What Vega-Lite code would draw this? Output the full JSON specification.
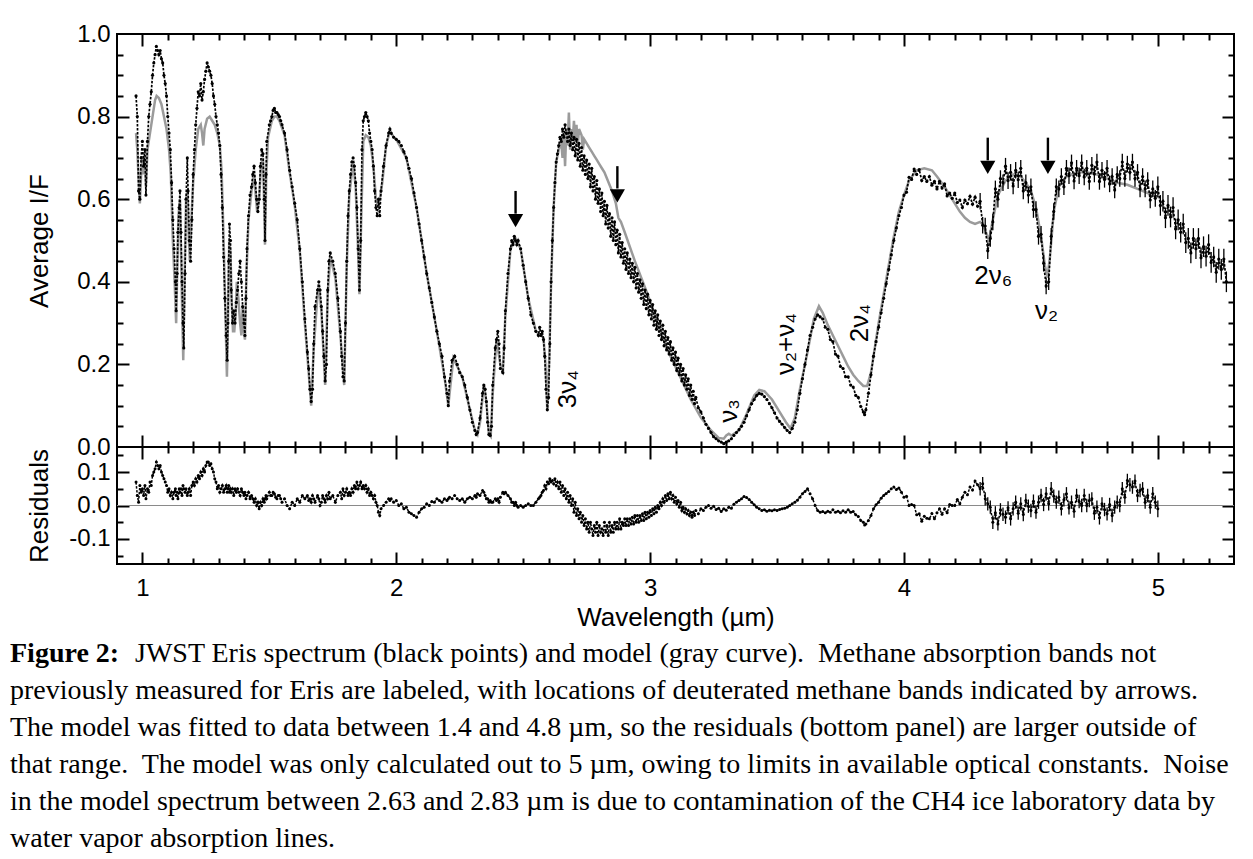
{
"$schema":"https://vega.github.io/schema/vega-lite/v6.json",
"background":"white",
"padding":{"left":10,"top":21,"right":10,"bottom":0},
"bounds":"flush",
"spacing":0,
"config":{
 "view":{"stroke":"black","strokeWidth":2},
 "font":"Liberation Sans",
 "axis":{"labelFont":"Liberation Sans","titleFont":"Liberation Sans","labelFontSize":24,"titleFontSize":26,"labelColor":"black","titleColor":"black","titleFontWeight":"normal","tickColor":"black","tickWidth":2,"domain":false,"grid":false,"labelOverlap":false,"labelBound":false,"labelFlush":false}
},
"datasets":{
"obs":[
{"w":0.975,"f":0.85,"r":0.07},{"w":0.98,"f":0.8,"r":0.03},{"w":0.985,"f":0.62,"r":0.01},{"w":0.99,"f":0.6,"r":0.06},{"w":0.995,"f":0.7,"r":0.04},{"w":1.0,"f":0.74,"r":0.05},{"w":1.005,"f":0.68,"r":0.03},{"w":1.01,"f":0.72,"r":0.06},{"w":1.014,"f":0.61,"r":0.02},{"w":1.02,"f":0.74,"r":0.05},{"w":1.025,"f":0.8,"r":0.04},{"w":1.03,"f":0.83,"r":0.07},{"w":1.035,"f":0.86,"r":0.06},{"w":1.04,"f":0.9,"r":0.09},{"w":1.045,"f":0.93,"r":0.1},{"w":1.05,"f":0.95,"r":0.11},{"w":1.055,"f":0.97,"r":0.13},{"w":1.06,"f":0.96,"r":0.12},{"w":1.065,"f":0.95,"r":0.11},{"w":1.07,"f":0.96,"r":0.12},{"w":1.075,"f":0.94,"r":0.1},{"w":1.08,"f":0.93,"r":0.09},{"w":1.085,"f":0.9,"r":0.08},{"w":1.09,"f":0.88,"r":0.07},{"w":1.095,"f":0.85,"r":0.06},{"w":1.1,"f":0.8,"r":0.04},{"w":1.105,"f":0.76,"r":0.05},{"w":1.11,"f":0.72,"r":0.03},{"w":1.115,"f":0.64,"r":0.04},{"w":1.12,"f":0.55,"r":0.02},{"w":1.125,"f":0.48,"r":0.04},{"w":1.13,"f":0.4,"r":0.05},{"w":1.133,"f":0.33,"r":0.03},{"w":1.137,"f":0.42,"r":0.04},{"w":1.14,"f":0.52,"r":0.02},{"w":1.145,"f":0.58,"r":0.05},{"w":1.148,"f":0.62,"r":0.04},{"w":1.152,"f":0.52,"r":0.05},{"w":1.156,"f":0.4,"r":0.03},{"w":1.16,"f":0.3,"r":0.06},{"w":1.163,"f":0.24,"r":0.05},{"w":1.168,"f":0.42,"r":0.04},{"w":1.172,"f":0.6,"r":0.05},{"w":1.177,"f":0.7,"r":0.03},{"w":1.18,"f":0.62,"r":0.04},{"w":1.185,"f":0.5,"r":0.05},{"w":1.19,"f":0.45,"r":0.03},{"w":1.195,"f":0.55,"r":0.06},{"w":1.2,"f":0.66,"r":0.07},{"w":1.205,"f":0.72,"r":0.06},{"w":1.21,"f":0.78,"r":0.08},{"w":1.215,"f":0.82,"r":0.07},{"w":1.22,"f":0.86,"r":0.09},{"w":1.225,"f":0.85,"r":0.08},{"w":1.23,"f":0.88,"r":0.1},{"w":1.235,"f":0.84,"r":0.09},{"w":1.24,"f":0.86,"r":0.11},{"w":1.245,"f":0.89,"r":0.1},{"w":1.25,"f":0.91,"r":0.12},{"w":1.255,"f":0.93,"r":0.13},{"w":1.26,"f":0.92,"r":0.13},{"w":1.265,"f":0.91,"r":0.12},{"w":1.27,"f":0.9,"r":0.125},{"w":1.275,"f":0.88,"r":0.11},{"w":1.28,"f":0.85,"r":0.1},{"w":1.285,"f":0.83,"r":0.08},{"w":1.29,"f":0.8,"r":0.07},{"w":1.295,"f":0.78,"r":0.05},{"w":1.3,"f":0.76,"r":0.06},{"w":1.305,"f":0.73,"r":0.04},{"w":1.31,"f":0.66,"r":0.05},{"w":1.315,"f":0.58,"r":0.06},{"w":1.32,"f":0.46,"r":0.04},{"w":1.325,"f":0.36,"r":0.05},{"w":1.33,"f":0.27,"r":0.06},{"w":1.334,"f":0.21,"r":0.04},{"w":1.337,"f":0.3,"r":0.05},{"w":1.34,"f":0.45,"r":0.06},{"w":1.343,"f":0.54,"r":0.04},{"w":1.347,"f":0.5,"r":0.05},{"w":1.35,"f":0.38,"r":0.04},{"w":1.355,"f":0.3,"r":0.05},{"w":1.36,"f":0.33,"r":0.03},{"w":1.365,"f":0.3,"r":0.05},{"w":1.37,"f":0.35,"r":0.04},{"w":1.375,"f":0.38,"r":0.05},{"w":1.38,"f":0.42,"r":0.04},{"w":1.385,"f":0.45,"r":0.03},{"w":1.39,"f":0.4,"r":0.05},{"w":1.395,"f":0.34,"r":0.04},{"w":1.4,"f":0.3,"r":0.03},{"w":1.404,"f":0.27,"r":0.04},{"w":1.408,"f":0.36,"r":0.02},{"w":1.412,"f":0.48,"r":0.03},{"w":1.418,"f":0.56,"r":0.04},{"w":1.424,"f":0.61,"r":0.02},{"w":1.43,"f":0.63,"r":0.03},{"w":1.435,"f":0.66,"r":0.02},{"w":1.44,"f":0.68,"r":0.01},{"w":1.445,"f":0.64,"r":0.02},{"w":1.45,"f":0.6,"r":0.0},{"w":1.455,"f":0.57,"r":0.01},{"w":1.46,"f":0.6,"r":-0.01},{"w":1.465,"f":0.68,"r":0.01},{"w":1.47,"f":0.72,"r":0.0},{"w":1.475,"f":0.71,"r":0.02},{"w":1.48,"f":0.6,"r":0.01},{"w":1.483,"f":0.5,"r":0.02},{"w":1.487,"f":0.66,"r":0.03},{"w":1.49,"f":0.74,"r":0.02},{"w":1.5,"f":0.78,"r":0.04},{"w":1.505,"f":0.79,"r":0.03},{"w":1.51,"f":0.8,"r":0.03},{"w":1.515,"f":0.815,"r":0.04},{"w":1.52,"f":0.82,"r":0.035},{"w":1.525,"f":0.81,"r":0.025},{"w":1.53,"f":0.81,"r":0.02},{"w":1.535,"f":0.805,"r":0.03},{"w":1.54,"f":0.8,"r":0.03},{"w":1.545,"f":0.79,"r":0.02},{"w":1.55,"f":0.78,"r":0.01},{"w":1.56,"f":0.76,"r":0.02},{"w":1.57,"f":0.72,"r":0.0},{"w":1.58,"f":0.67,"r":-0.01},{"w":1.59,"f":0.63,"r":0.01},{"w":1.6,"f":0.59,"r":0.0},{"w":1.61,"f":0.55,"r":0.02},{"w":1.62,"f":0.48,"r":0.01},{"w":1.63,"f":0.4,"r":0.03},{"w":1.64,"f":0.31,"r":0.02},{"w":1.65,"f":0.23,"r":0.03},{"w":1.655,"f":0.19,"r":0.015},{"w":1.66,"f":0.14,"r":0.02},{"w":1.665,"f":0.11,"r":0.01},{"w":1.67,"f":0.14,"r":0.03},{"w":1.675,"f":0.25,"r":0.02},{"w":1.68,"f":0.34,"r":0.01},{"w":1.69,"f":0.38,"r":0.03},{"w":1.695,"f":0.4,"r":0.02},{"w":1.7,"f":0.38,"r":0.0},{"w":1.705,"f":0.34,"r":0.01},{"w":1.71,"f":0.28,"r":0.03},{"w":1.715,"f":0.22,"r":0.02},{"w":1.72,"f":0.16,"r":0.01},{"w":1.725,"f":0.2,"r":0.03},{"w":1.73,"f":0.38,"r":0.02},{"w":1.735,"f":0.45,"r":0.04},{"w":1.74,"f":0.47,"r":0.02},{"w":1.75,"f":0.45,"r":0.03},{"w":1.76,"f":0.42,"r":0.01},{"w":1.77,"f":0.36,"r":0.03},{"w":1.78,"f":0.28,"r":0.04},{"w":1.785,"f":0.22,"r":0.02},{"w":1.79,"f":0.17,"r":0.05},{"w":1.795,"f":0.16,"r":0.03},{"w":1.8,"f":0.3,"r":0.04},{"w":1.805,"f":0.45,"r":0.05},{"w":1.81,"f":0.56,"r":0.03},{"w":1.815,"f":0.62,"r":0.04},{"w":1.82,"f":0.66,"r":0.03},{"w":1.825,"f":0.69,"r":0.05},{"w":1.83,"f":0.7,"r":0.04},{"w":1.835,"f":0.68,"r":0.06},{"w":1.84,"f":0.64,"r":0.05},{"w":1.845,"f":0.58,"r":0.07},{"w":1.85,"f":0.48,"r":0.05},{"w":1.855,"f":0.38,"r":0.06},{"w":1.86,"f":0.5,"r":0.07},{"w":1.865,"f":0.72,"r":0.05},{"w":1.87,"f":0.79,"r":0.06},{"w":1.875,"f":0.8,"r":0.05},{"w":1.88,"f":0.81,"r":0.06},{"w":1.885,"f":0.8,"r":0.04},{"w":1.89,"f":0.79,"r":0.05},{"w":1.895,"f":0.76,"r":0.03},{"w":1.9,"f":0.74,"r":0.04},{"w":1.905,"f":0.72,"r":0.03},{"w":1.91,"f":0.68,"r":0.02},{"w":1.915,"f":0.62,"r":0.03},{"w":1.92,"f":0.58,"r":0.01},{"w":1.925,"f":0.56,"r":0.0},{"w":1.93,"f":0.6,"r":-0.02},{"w":1.935,"f":0.56,"r":-0.03},{"w":1.94,"f":0.62,"r":-0.01},{"w":1.95,"f":0.68,"r":0.0},{"w":1.96,"f":0.73,"r":0.01},{"w":1.97,"f":0.76,"r":0.02},{"w":1.975,"f":0.77,"r":0.015},{"w":1.98,"f":0.76,"r":0.02},{"w":1.99,"f":0.75,"r":0.01},{"w":2.0,"f":0.745,"r":0.015},{"w":2.01,"f":0.74,"r":0.0},{"w":2.02,"f":0.73,"r":0.005},{"w":2.03,"f":0.715,"r":-0.01},{"w":2.04,"f":0.7,"r":-0.005},{"w":2.05,"f":0.675,"r":-0.02},{"w":2.06,"f":0.65,"r":-0.025},{"w":2.07,"f":0.615,"r":-0.03},{"w":2.08,"f":0.58,"r":-0.035},{"w":2.09,"f":0.54,"r":-0.02},{"w":2.1,"f":0.5,"r":-0.01},{"w":2.11,"f":0.46,"r":-0.005},{"w":2.12,"f":0.42,"r":0.005},{"w":2.13,"f":0.385,"r":0.0},{"w":2.14,"f":0.35,"r":0.012},{"w":2.15,"f":0.315,"r":0.01},{"w":2.16,"f":0.28,"r":0.02},{"w":2.17,"f":0.25,"r":0.015},{"w":2.18,"f":0.22,"r":0.01},{"w":2.19,"f":0.17,"r":0.02},{"w":2.2,"f":0.13,"r":0.015},{"w":2.205,"f":0.1,"r":0.02},{"w":2.21,"f":0.16,"r":0.025},{"w":2.22,"f":0.21,"r":0.02},{"w":2.23,"f":0.22,"r":0.03},{"w":2.24,"f":0.2,"r":0.02},{"w":2.25,"f":0.18,"r":0.015},{"w":2.26,"f":0.17,"r":0.02},{"w":2.27,"f":0.15,"r":0.01},{"w":2.28,"f":0.12,"r":0.02},{"w":2.29,"f":0.09,"r":0.025},{"w":2.3,"f":0.06,"r":0.02},{"w":2.31,"f":0.04,"r":0.03},{"w":2.315,"f":0.03,"r":0.025},{"w":2.32,"f":0.035,"r":0.035},{"w":2.33,"f":0.07,"r":0.03},{"w":2.34,"f":0.13,"r":0.045},{"w":2.345,"f":0.15,"r":0.04},{"w":2.35,"f":0.14,"r":0.03},{"w":2.355,"f":0.11,"r":0.02},{"w":2.36,"f":0.06,"r":0.02},{"w":2.365,"f":0.03,"r":0.01},{"w":2.37,"f":0.028,"r":0.015},{"w":2.375,"f":0.05,"r":0.01},{"w":2.38,"f":0.15,"r":0.01},{"w":2.39,"f":0.24,"r":0.02},{"w":2.395,"f":0.26,"r":0.015},{"w":2.4,"f":0.28,"r":0.02},{"w":2.405,"f":0.25,"r":0.01},{"w":2.41,"f":0.19,"r":0.025},{"w":2.42,"f":0.18,"r":0.04},{"w":2.425,"f":0.24,"r":0.035},{"w":2.43,"f":0.33,"r":0.04},{"w":2.44,"f":0.42,"r":0.03},{"w":2.45,"f":0.48,"r":0.02},{"w":2.455,"f":0.5,"r":0.01},{"w":2.46,"f":0.49,"r":0.01},{"w":2.465,"f":0.51,"r":0.0},{"w":2.47,"f":0.5,"r":0.01},{"w":2.475,"f":0.49,"r":0.0},{"w":2.48,"f":0.5,"r":-0.005},{"w":2.49,"f":0.48,"r":0.0},{"w":2.5,"f":0.44,"r":-0.005},{"w":2.51,"f":0.4,"r":0.0},{"w":2.52,"f":0.36,"r":0.005},{"w":2.53,"f":0.32,"r":0.0},{"w":2.54,"f":0.3,"r":0.0},{"w":2.55,"f":0.28,"r":0.01},{"w":2.56,"f":0.27,"r":0.02},{"w":2.565,"f":0.29,"r":0.025},{"w":2.57,"f":0.27,"r":0.03},{"w":2.575,"f":0.28,"r":0.04},{"w":2.58,"f":0.26,"r":0.045},{"w":2.585,"f":0.22,"r":0.06},{"w":2.59,"f":0.14,"r":0.05},{"w":2.595,"f":0.09,"r":0.07},{"w":2.6,"f":0.12,"r":0.065},{"w":2.605,"f":0.25,"r":0.08},{"w":2.61,"f":0.4,"r":0.07},{"w":2.615,"f":0.5,"r":0.075},{"w":2.62,"f":0.58,"r":0.065},{"w":2.625,"f":0.64,"r":0.08},{"w":2.63,"f":0.69,"r":0.06},{"w":2.635,"f":0.71,"r":0.07},
{"w":2.64,"f":0.73,"r":0.05},{"w":2.645,"f":0.75,"r":0.07},{"w":2.65,"f":0.74,"r":0.04},{"w":2.655,"f":0.77,"r":0.06},{"w":2.66,"f":0.75,"r":0.03},{"w":2.665,"f":0.78,"r":0.05},{"w":2.67,"f":0.76,"r":0.02},{"w":2.675,"f":0.74,"r":0.04},{"w":2.68,"f":0.77,"r":0.01},{"w":2.685,"f":0.73,"r":0.03},{"w":2.69,"f":0.76,"r":0.0},{"w":2.695,"f":0.72,"r":0.02},{"w":2.7,"f":0.75,"r":-0.02},{"w":2.705,"f":0.705,"r":0.01},{"w":2.71,"f":0.745,"r":-0.03},{"w":2.715,"f":0.695,"r":-0.01},{"w":2.72,"f":0.735,"r":-0.04},{"w":2.725,"f":0.68,"r":-0.02},{"w":2.73,"f":0.725,"r":-0.05},{"w":2.735,"f":0.67,"r":-0.03},{"w":2.74,"f":0.705,"r":-0.06},{"w":2.745,"f":0.66,"r":-0.04},{"w":2.75,"f":0.695,"r":-0.07},{"w":2.755,"f":0.65,"r":-0.05},{"w":2.76,"f":0.685,"r":-0.08},{"w":2.765,"f":0.63,"r":-0.05},{"w":2.77,"f":0.675,"r":-0.07},{"w":2.775,"f":0.62,"r":-0.09},{"w":2.78,"f":0.655,"r":-0.06},{"w":2.785,"f":0.6,"r":-0.08},{"w":2.79,"f":0.645,"r":-0.05},{"w":2.795,"f":0.59,"r":-0.09},{"w":2.8,"f":0.625,"r":-0.06},{"w":2.805,"f":0.57,"r":-0.08},{"w":2.81,"f":0.615,"r":-0.07},{"w":2.815,"f":0.56,"r":-0.09},{"w":2.82,"f":0.595,"r":-0.05},{"w":2.825,"f":0.54,"r":-0.08},{"w":2.83,"f":0.585,"r":-0.06},{"w":2.835,"f":0.53,"r":-0.09},{"w":2.84,"f":0.565,"r":-0.05},{"w":2.845,"f":0.51,"r":-0.08},{"w":2.85,"f":0.555,"r":-0.06},{"w":2.855,"f":0.5,"r":-0.08},{"w":2.86,"f":0.545,"r":-0.05},{"w":2.865,"f":0.49,"r":-0.07},{"w":2.87,"f":0.525,"r":-0.05},{"w":2.875,"f":0.47,"r":-0.07},{"w":2.88,"f":0.515,"r":-0.04},{"w":2.885,"f":0.46,"r":-0.07},{"w":2.89,"f":0.495,"r":-0.05},{"w":2.895,"f":0.445,"r":-0.06},{"w":2.9,"f":0.48,"r":-0.04},{"w":2.905,"f":0.43,"r":-0.06},{"w":2.91,"f":0.47,"r":-0.04},{"w":2.915,"f":0.42,"r":-0.06},{"w":2.92,"f":0.455,"r":-0.04},{"w":2.925,"f":0.41,"r":-0.055},{"w":2.93,"f":0.445,"r":-0.035},{"w":2.935,"f":0.4,"r":-0.055},{"w":2.94,"f":0.435,"r":-0.03},{"w":2.945,"f":0.385,"r":-0.05},{"w":2.95,"f":0.42,"r":-0.03},{"w":2.955,"f":0.375,"r":-0.05},{"w":2.96,"f":0.405,"r":-0.03},{"w":2.965,"f":0.36,"r":-0.045},{"w":2.97,"f":0.395,"r":-0.025},{"w":2.975,"f":0.345,"r":-0.045},{"w":2.98,"f":0.38,"r":-0.02},{"w":2.985,"f":0.335,"r":-0.04},{"w":2.99,"f":0.37,"r":-0.02},{"w":2.995,"f":0.32,"r":-0.035},{"w":3.0,"f":0.355,"r":-0.015},{"w":3.005,"f":0.31,"r":-0.03},{"w":3.01,"f":0.345,"r":-0.01},{"w":3.015,"f":0.295,"r":-0.025},{"w":3.02,"f":0.33,"r":-0.005},{"w":3.025,"f":0.285,"r":-0.02},{"w":3.03,"f":0.32,"r":0.0},{"w":3.035,"f":0.27,"r":-0.01},{"w":3.04,"f":0.305,"r":0.01},{"w":3.045,"f":0.26,"r":0.0},{"w":3.05,"f":0.295,"r":0.02},{"w":3.055,"f":0.245,"r":0.01},{"w":3.06,"f":0.28,"r":0.03},{"w":3.065,"f":0.235,"r":0.015},{"w":3.07,"f":0.265,"r":0.035},{"w":3.075,"f":0.225,"r":0.02},{"w":3.08,"f":0.255,"r":0.04},{"w":3.085,"f":0.21,"r":0.02},{"w":3.09,"f":0.24,"r":0.03},{"w":3.095,"f":0.2,"r":0.01},{"w":3.1,"f":0.23,"r":0.025},{"w":3.105,"f":0.185,"r":0.005},{"w":3.11,"f":0.215,"r":0.015},{"w":3.115,"f":0.175,"r":-0.005},{"w":3.12,"f":0.2,"r":0.01},{"w":3.125,"f":0.16,"r":-0.015},{"w":3.13,"f":0.19,"r":-0.005},{"w":3.135,"f":0.15,"r":-0.02},{"w":3.14,"f":0.175,"r":-0.01},{"w":3.145,"f":0.14,"r":-0.025},{"w":3.15,"f":0.165,"r":-0.015},{"w":3.155,"f":0.125,"r":-0.03},{"w":3.16,"f":0.15,"r":-0.02},{"w":3.165,"f":0.115,"r":-0.035},{"w":3.17,"f":0.135,"r":-0.02},{"w":3.175,"f":0.105,"r":-0.03},{"w":3.18,"f":0.12,"r":-0.015},{"w":3.19,"f":0.095,"r":-0.025},{"w":3.2,"f":0.085,"r":-0.01},{"w":3.21,"f":0.07,"r":-0.015},
{"w":3.22,"f":0.055,"r":-0.005},{"w":3.23,"f":0.045,"r":0.0},{"w":3.24,"f":0.035,"r":-0.008},{"w":3.25,"f":0.025,"r":-0.002},{"w":3.26,"f":0.02,"r":-0.012},{"w":3.27,"f":0.015,"r":-0.008},{"w":3.28,"f":0.012,"r":-0.018},{"w":3.29,"f":0.008,"r":-0.01},{"w":3.3,"f":0.012,"r":-0.014},{"w":3.31,"f":0.015,"r":-0.005},{"w":3.32,"f":0.02,"r":-0.008},{"w":3.33,"f":0.028,"r":0.004},{"w":3.34,"f":0.035,"r":0.01},{"w":3.35,"f":0.042,"r":0.015},{"w":3.36,"f":0.05,"r":0.02},{"w":3.37,"f":0.06,"r":0.027},{"w":3.38,"f":0.075,"r":0.024},{"w":3.39,"f":0.09,"r":0.018},{"w":3.4,"f":0.105,"r":0.01},{"w":3.41,"f":0.115,"r":0.002},{"w":3.42,"f":0.125,"r":-0.005},{"w":3.43,"f":0.13,"r":-0.01},{"w":3.44,"f":0.128,"r":-0.015},{"w":3.45,"f":0.122,"r":-0.013},{"w":3.46,"f":0.115,"r":-0.017},{"w":3.47,"f":0.105,"r":-0.014},{"w":3.48,"f":0.095,"r":-0.016},{"w":3.49,"f":0.083,"r":-0.013},{"w":3.5,"f":0.07,"r":-0.015},{"w":3.51,"f":0.062,"r":-0.012},{"w":3.52,"f":0.055,"r":-0.01},{"w":3.53,"f":0.047,"r":-0.008},{"w":3.54,"f":0.04,"r":-0.005},{"w":3.55,"f":0.035,"r":0.0},{"w":3.56,"f":0.045,"r":0.005},{"w":3.57,"f":0.06,"r":0.01},{"w":3.58,"f":0.09,"r":0.016},{"w":3.59,"f":0.13,"r":0.025},{"w":3.6,"f":0.165,"r":0.035},{"w":3.61,"f":0.2,"r":0.042},{"w":3.62,"f":0.235,"r":0.05},{"w":3.63,"f":0.27,"r":0.035},{"w":3.64,"f":0.29,"r":0.02},{"w":3.65,"f":0.31,"r":0.0},{"w":3.66,"f":0.32,"r":-0.015},{"w":3.67,"f":0.315,"r":-0.02},{"w":3.68,"f":0.31,"r":-0.018},{"w":3.69,"f":0.29,"r":-0.022},{"w":3.7,"f":0.285,"r":-0.017},{"w":3.71,"f":0.26,"r":-0.02},{"w":3.72,"f":0.255,"r":-0.013},{"w":3.73,"f":0.225,"r":-0.02},{"w":3.74,"f":0.22,"r":-0.017},{"w":3.75,"f":0.195,"r":-0.022},{"w":3.76,"f":0.19,"r":-0.016},{"w":3.77,"f":0.17,"r":-0.02},{"w":3.78,"f":0.17,"r":-0.013},{"w":3.79,"f":0.15,"r":-0.02},{"w":3.8,"f":0.145,"r":-0.018},{"w":3.81,"f":0.125,"r":-0.028},{"w":3.82,"f":0.12,"r":-0.033},{"w":3.83,"f":0.098,"r":-0.045},{"w":3.84,"f":0.085,"r":-0.05},{"w":3.845,"f":0.078,"r":-0.058},{"w":3.85,"f":0.09,"r":-0.055},{"w":3.86,"f":0.13,"r":-0.045},{"w":3.87,"f":0.175,"r":-0.03},{"w":3.88,"f":0.22,"r":-0.01},{"w":3.89,"f":0.255,"r":0.002},{"w":3.9,"f":0.29,"r":0.01},{"w":3.91,"f":0.325,"r":0.022},{"w":3.92,"f":0.36,"r":0.03},{"w":3.93,"f":0.395,"r":0.036},{"w":3.94,"f":0.43,"r":0.042},{"w":3.95,"f":0.465,"r":0.05},{"w":3.96,"f":0.5,"r":0.055},{"w":3.97,"f":0.53,"r":0.048},{"w":3.98,"f":0.56,"r":0.052},{"w":3.99,"f":0.58,"r":0.04},
{"w":4.0,"f":0.61,"r":0.025},{"w":4.01,"f":0.617,"r":0.028},{"w":4.02,"f":0.653,"r":0.0},{"w":4.03,"f":0.648,"r":0.003},{"w":4.04,"f":0.673,"r":0.0},{"w":4.05,"f":0.66,"r":-0.028},{"w":4.06,"f":0.672,"r":-0.025},{"w":4.07,"f":0.645,"r":-0.047},{"w":4.08,"f":0.655,"r":-0.032},{"w":4.09,"f":0.643,"r":-0.038},{"w":4.1,"f":0.655,"r":-0.04},{"w":4.11,"f":0.634,"r":-0.024},{"w":4.12,"f":0.643,"r":-0.04},{"w":4.13,"f":0.625,"r":-0.022},{"w":4.14,"f":0.643,"r":-0.01},{"w":4.15,"f":0.627,"r":-0.026},{"w":4.16,"f":0.637,"r":-0.01},{"w":4.17,"f":0.608,"r":-0.022},{"w":4.18,"f":0.615,"r":0.003},{"w":4.19,"f":0.602,"r":0.0},{"w":4.2,"f":0.615,"r":0.0},{"w":4.21,"f":0.592,"r":0.018},{"w":4.22,"f":0.598,"r":0.005},{"w":4.23,"f":0.58,"r":0.025},{"w":4.24,"f":0.598,"r":0.04},{"w":4.25,"f":0.589,"r":0.032},{"w":4.26,"f":0.607,"r":0.055},{"w":4.27,"f":0.588,"r":0.046},{"w":4.28,"f":0.605,"r":0.073},{"w":4.29,"f":0.583,"r":0.062},
{"w":4.3,"f":0.595,"r":0.05,"e":0.02},{"w":4.31,"f":0.537,"r":0.065,"e":0.02},{"w":4.32,"f":0.535,"r":0.02,"e":0.02},{"w":4.33,"f":0.475,"r":0.005,"e":0.02},{"w":4.34,"f":0.505,"r":-0.005,"e":0.02},{"w":4.35,"f":0.545,"r":-0.05,"e":0.02},{"w":4.36,"f":0.625,"r":-0.022,"e":0.02},{"w":4.37,"f":0.6,"r":-0.055,"e":0.02},{"w":4.38,"f":0.65,"r":-0.013,"e":0.02},{"w":4.39,"f":0.64,"r":-0.026,"e":0.02},{"w":4.4,"f":0.68,"r":-0.035,"e":0.02},{"w":4.41,"f":0.645,"r":-0.007,"e":0.02},{"w":4.42,"f":0.665,"r":-0.04,"e":0.02},{"w":4.43,"f":0.632,"r":-0.01,"e":0.02},{"w":4.44,"f":0.67,"r":0.01,"e":0.02},{"w":4.45,"f":0.647,"r":-0.023,"e":0.02},{"w":4.46,"f":0.675,"r":0.005,"e":0.02},{"w":4.47,"f":0.62,"r":-0.027,"e":0.02},{"w":4.48,"f":0.64,"r":0.015,"e":0.02},{"w":4.49,"f":0.61,"r":-0.002,"e":0.02},{"w":4.5,"f":0.63,"r":-0.015,"e":0.02},{"w":4.51,"f":0.575,"r":0.013,"e":0.02},{"w":4.52,"f":0.575,"r":-0.02,"e":0.02},{"w":4.53,"f":0.51,"r":0.01,"e":0.02},{"w":4.54,"f":0.515,"r":0.03,"e":0.02},{"w":4.55,"f":0.445,"r":0.003,"e":0.02},{"w":4.56,"f":0.39,"r":0.035,"e":0.02},{"w":4.57,"f":0.4,"r":0.005,"e":0.02},{"w":4.58,"f":0.51,"r":0.05,"e":0.02},{"w":4.59,"f":0.57,"r":0.028,"e":0.02},{"w":4.6,"f":0.63,"r":0.01,"e":0.02},{"w":4.61,"f":0.625,"r":0.025,"e":0.02},{"w":4.62,"f":0.655,"r":-0.01,"e":0.02},{"w":4.63,"f":0.63,"r":0.017,"e":0.02},{"w":4.64,"f":0.675,"r":0.035,"e":0.02},{"w":4.65,"f":0.657,"r":-0.007,"e":0.02},{"w":4.66,"f":0.688,"r":0.01,"e":0.02},{"w":4.67,"f":0.644,"r":-0.017,"e":0.02},{"w":4.68,"f":0.675,"r":0.03,"e":0.02},{"w":4.69,"f":0.657,"r":0.012,"e":0.02},{"w":4.7,"f":0.688,"r":0.0,"e":0.02},{"w":4.71,"f":0.654,"r":0.03,"e":0.02},{"w":4.72,"f":0.675,"r":0.0,"e":0.02},{"w":4.73,"f":0.643,"r":0.015,"e":0.02},{"w":4.74,"f":0.682,"r":0.02,"e":0.02},{"w":4.75,"f":0.661,"r":-0.023,"e":0.02},{"w":4.76,"f":0.69,"r":-0.005,"e":0.02},{"w":4.77,"f":0.643,"r":-0.037,"e":0.02},{"w":4.78,"f":0.67,"r":0.005,"e":0.02},{"w":4.79,"f":0.648,"r":-0.012,"e":0.02},{"w":4.8,"f":0.675,"r":-0.025,"e":0.02},{"w":4.81,"f":0.637,"r":0.003,"e":0.02},{"w":4.82,"f":0.655,"r":-0.03,"e":0.02},{"w":4.83,"f":0.622,"r":-0.005,"e":0.02},{"w":4.84,"f":0.66,"r":0.01,"e":0.02},{"w":4.85,"f":0.65,"r":0.0,"e":0.02},{"w":4.86,"f":0.69,"r":0.05,"e":0.02},{"w":4.87,"f":0.65,"r":0.025,"e":0.02},{"w":4.88,"f":0.685,"r":0.075,"e":0.02},{"w":4.89,"f":0.665,"r":0.062,"e":0.02},{"w":4.9,"f":0.69,"r":0.055,"e":0.02},{"w":4.91,"f":0.65,"r":0.073,"e":0.02},{"w":4.92,"f":0.665,"r":0.03,"e":0.02},{"w":4.93,"f":0.625,"r":0.045,"e":0.02},{"w":4.94,"f":0.655,"r":0.05,"e":0.02},{"w":4.95,"f":0.625,"r":0.01,"e":0.02},{"w":4.96,"f":0.645,"r":0.03,"e":0.02},{"w":4.97,"f":0.598,"r":-0.005,"e":0.02},{"w":4.98,"f":0.625,"r":0.035,"e":0.02},{"w":4.99,"f":0.602,"r":0.01,"e":0.02},{"w":5.0,"f":0.63,"r":-0.01,"e":0.025},
{"w":5.01,"f":0.585,"e":0.025},{"w":5.02,"f":0.595,"e":0.025},{"w":5.03,"f":0.555,"e":0.025},{"w":5.04,"f":0.585,"e":0.025},{"w":5.05,"f":0.557,"e":0.025},{"w":5.06,"f":0.58,"e":0.025},{"w":5.07,"f":0.528,"e":0.025},{"w":5.08,"f":0.55,"e":0.025},{"w":5.09,"f":0.52,"e":0.025},{"w":5.1,"f":0.54,"e":0.025},{"w":5.11,"f":0.495,"e":0.025},{"w":5.12,"f":0.505,"e":0.025},{"w":5.13,"f":0.47,"e":0.025},{"w":5.14,"f":0.505,"e":0.025},{"w":5.15,"f":0.48,"e":0.025},{"w":5.16,"f":0.505,"e":0.025},{"w":5.17,"f":0.458,"e":0.025},{"w":5.18,"f":0.485,"e":0.025},{"w":5.19,"f":0.462,"e":0.025},{"w":5.2,"f":0.49,"e":0.025},{"w":5.21,"f":0.447,"e":0.025},{"w":5.22,"f":0.46,"e":0.025},{"w":5.23,"f":0.423,"e":0.025},{"w":5.24,"f":0.455,"e":0.025},{"w":5.25,"f":0.43,"e":0.025},{"w":5.26,"f":0.455,"e":0.025},{"w":5.27,"f":0.4,"e":0.025}
],
"model":[
{"w":0.975,"m":0.76},{"w":0.98,"m":0.72},{"w":0.985,"m":0.65},{"w":0.99,"m":0.59},{"w":0.995,"m":0.66},{"w":1.0,"m":0.7},{"w":1.005,"m":0.66},{"w":1.01,"m":0.7},{"w":1.014,"m":0.63},{"w":1.02,"m":0.72},{"w":1.03,"m":0.76},{"w":1.04,"m":0.8},{"w":1.05,"m":0.84},{"w":1.056,"m":0.85},{"w":1.065,"m":0.845},{"w":1.075,"m":0.83},{"w":1.085,"m":0.8},{"w":1.095,"m":0.77},{"w":1.105,"m":0.72},{"w":1.112,"m":0.66},{"w":1.12,"m":0.5},{"w":1.127,"m":0.4},{"w":1.133,"m":0.3},{"w":1.137,"m":0.42},{"w":1.142,"m":0.56},{"w":1.148,"m":0.6},{"w":1.152,"m":0.48},{"w":1.157,"m":0.32},{"w":1.161,"m":0.21},{"w":1.166,"m":0.4},{"w":1.172,"m":0.6},{"w":1.177,"m":0.62},{"w":1.182,"m":0.52},{"w":1.187,"m":0.45},{"w":1.193,"m":0.55},{"w":1.2,"m":0.64},{"w":1.21,"m":0.72},{"w":1.22,"m":0.77},{"w":1.23,"m":0.78},{"w":1.235,"m":0.76},{"w":1.24,"m":0.73},{"w":1.245,"m":0.77},{"w":1.255,"m":0.795},{"w":1.265,"m":0.8},{"w":1.275,"m":0.79},{"w":1.285,"m":0.78},{"w":1.295,"m":0.76},{"w":1.305,"m":0.73},{"w":1.312,"m":0.67},{"w":1.32,"m":0.5},{"w":1.328,"m":0.3},{"w":1.333,"m":0.17},{"w":1.337,"m":0.3},{"w":1.342,"m":0.5},{"w":1.347,"m":0.47},{"w":1.352,"m":0.35},{"w":1.357,"m":0.28},{"w":1.362,"m":0.28},{"w":1.367,"m":0.32},{"w":1.372,"m":0.4},{"w":1.378,"m":0.36},{"w":1.385,"m":0.3},{"w":1.39,"m":0.27},{"w":1.395,"m":0.34},{"w":1.4,"m":0.28},{"w":1.404,"m":0.26},{"w":1.41,"m":0.42},{"w":1.418,"m":0.55},{"w":1.43,"m":0.62},{"w":1.44,"m":0.66},{"w":1.445,"m":0.62},{"w":1.452,"m":0.57},{"w":1.46,"m":0.6},{"w":1.467,"m":0.68},{"w":1.475,"m":0.7},{"w":1.48,"m":0.58},{"w":1.483,"m":0.49},{"w":1.488,"m":0.66},{"w":1.495,"m":0.75},{"w":1.51,"m":0.79},{"w":1.52,"m":0.8},{"w":1.53,"m":0.8},{"w":1.54,"m":0.79},{"w":1.56,"m":0.755},{"w":1.58,"m":0.665},{"w":1.6,"m":0.585},{"w":1.62,"m":0.475},{"w":1.64,"m":0.3},{"w":1.655,"m":0.18},{"w":1.665,"m":0.1},{"w":1.675,"m":0.24},{"w":1.69,"m":0.37},{"w":1.695,"m":0.39},{"w":1.705,"m":0.33},{"w":1.715,"m":0.21},{"w":1.72,"m":0.15},{"w":1.73,"m":0.37},{"w":1.74,"m":0.46},{"w":1.76,"m":0.41},{"w":1.78,"m":0.27},{"w":1.795,"m":0.15},{"w":1.805,"m":0.44},{"w":1.815,"m":0.61},{"w":1.83,"m":0.69},{"w":1.84,"m":0.63},{"w":1.85,"m":0.47},{"w":1.855,"m":0.37},{"w":1.862,"m":0.55},{"w":1.87,"m":0.74},{"w":1.88,"m":0.755},{"w":1.89,"m":0.75},{"w":1.9,"m":0.73},{"w":1.91,"m":0.68},{"w":1.92,"m":0.6},{"w":1.93,"m":0.58},{"w":1.935,"m":0.6},{"w":1.945,"m":0.64},{"w":1.96,"m":0.73},{"w":1.975,"m":0.765},{"w":1.99,"m":0.75},{"w":2.0,"m":0.745},{"w":2.04,"m":0.7},{"w":2.08,"m":0.58},{"w":2.12,"m":0.42},{"w":2.16,"m":0.28},{"w":2.19,"m":0.17},{"w":2.205,"m":0.1},{"w":2.225,"m":0.215},{"w":2.26,"m":0.17},{"w":2.29,"m":0.09},{"w":2.31,"m":0.04},{"w":2.32,"m":0.03},{"w":2.33,"m":0.06},{"w":2.345,"m":0.15},{"w":2.355,"m":0.11},{"w":2.365,"m":0.03},{"w":2.372,"m":0.025},{"w":2.38,"m":0.13},{"w":2.395,"m":0.26},{"w":2.41,"m":0.2},{"w":2.42,"m":0.18},{"w":2.43,"m":0.32},{"w":2.45,"m":0.48},{"w":2.47,"m":0.505},{"w":2.49,"m":0.48},{"w":2.52,"m":0.36},{"w":2.55,"m":0.28},{"w":2.58,"m":0.265},{"w":2.588,"m":0.2},{"w":2.595,"m":0.09},{"w":2.603,"m":0.22},{"w":2.61,"m":0.4},{"w":2.62,"m":0.58},{"w":2.63,"m":0.69},{"w":2.64,"m":0.72},{"w":2.65,"m":0.74},{"w":2.655,"m":0.7},{"w":2.66,"m":0.76},{"w":2.665,"m":0.68},{"w":2.67,"m":0.77},{"w":2.675,"m":0.73},{"w":2.68,"m":0.81},{"w":2.685,"m":0.72},{"w":2.69,"m":0.77},{"w":2.695,"m":0.74},{"w":2.7,"m":0.79},{"w":2.705,"m":0.74},{"w":2.71,"m":0.78},{"w":2.715,"m":0.73},{"w":2.72,"m":0.77},{"w":2.73,"m":0.755},{"w":2.735,"m":0.72},{"w":2.74,"m":0.745},{"w":2.75,"m":0.735},{"w":2.76,"m":0.725},{"w":2.77,"m":0.715},{"w":2.78,"m":0.705},{"w":2.79,"m":0.695},{"w":2.8,"m":0.685},{"w":2.81,"m":0.675},{"w":2.82,"m":0.665},{"w":2.83,"m":0.65},{"w":2.85,"m":0.62},{"w":2.865,"m":0.59},{"w":2.875,"m":0.555},{"w":2.885,"m":0.545},{"w":2.9,"m":0.52},{"w":2.94,"m":0.45},{"w":2.99,"m":0.37},{"w":3.04,"m":0.28},{"w":3.08,"m":0.22},{"w":3.12,"m":0.168},{"w":3.16,"m":0.115},{"w":3.2,"m":0.071},{"w":3.24,"m":0.04},{"w":3.27,"m":0.022},{"w":3.29,"m":0.02},{"w":3.3,"m":0.028},{"w":3.31,"m":0.032},{"w":3.32,"m":0.028},{"w":3.35,"m":0.04},{"w":3.38,"m":0.08},{"w":3.41,"m":0.125},{"w":3.43,"m":0.138},{"w":3.45,"m":0.135},{"w":3.48,"m":0.115},{"w":3.51,"m":0.085},{"w":3.535,"m":0.06},{"w":3.553,"m":0.045},{"w":3.57,"m":0.07},{"w":3.59,"m":0.14},{"w":3.62,"m":0.23},{"w":3.645,"m":0.31},{"w":3.665,"m":0.341},{"w":3.68,"m":0.325},{"w":3.7,"m":0.295},{"w":3.72,"m":0.27},{"w":3.74,"m":0.245},{"w":3.76,"m":0.22},{"w":3.78,"m":0.195},{"w":3.8,"m":0.175},{"w":3.82,"m":0.16},{"w":3.84,"m":0.148},{"w":3.855,"m":0.148},{"w":3.87,"m":0.18},{"w":3.9,"m":0.3},{"w":3.92,"m":0.37},{"w":3.94,"m":0.44},{"w":3.96,"m":0.51},{"w":3.98,"m":0.57},{"w":4.0,"m":0.61},{"w":4.02,"m":0.645},{"w":4.05,"m":0.67},{"w":4.08,"m":0.675},{"w":4.11,"m":0.67},{"w":4.13,"m":0.655},{"w":4.16,"m":0.63},{"w":4.18,"m":0.61},{"w":4.2,"m":0.59},{"w":4.22,"m":0.57},{"w":4.24,"m":0.555},{"w":4.26,"m":0.545},{"w":4.28,"m":0.54},{"w":4.3,"m":0.545},{"w":4.31,"m":0.54},{"w":4.32,"m":0.525},{"w":4.335,"m":0.5},{"w":4.35,"m":0.55},{"w":4.37,"m":0.61},{"w":4.4,"m":0.645},{"w":4.43,"m":0.66},{"w":4.46,"m":0.655},{"w":4.48,"m":0.64},{"w":4.5,"m":0.62},{"w":4.52,"m":0.58},{"w":4.54,"m":0.51},{"w":4.555,"m":0.44},{"w":4.565,"m":0.41},{"w":4.575,"m":0.46},{"w":4.59,"m":0.57},{"w":4.61,"m":0.63},{"w":4.64,"m":0.655},{"w":4.68,"m":0.665},{"w":4.72,"m":0.665},{"w":4.76,"m":0.66},{"w":4.8,"m":0.65},{"w":4.84,"m":0.64},{"w":4.88,"m":0.635},{"w":4.92,"m":0.625},{"w":4.96,"m":0.615},{"w":5.0,"m":0.605}
],
"arrows":[{"w":2.47,"t":0.62,"h":0.565,"c":0.548},{"w":2.871,"t":0.68,"h":0.626,"c":0.608},{"w":4.33,"t":0.749,"h":0.694,"c":0.677},{"w":4.567,"t":0.749,"h":0.694,"c":0.677}],
"vlabels":[{"w":2.677,"f":0.14,"t":"3ν₄"},{"w":3.309,"f":0.087,"t":"ν₃"},{"w":3.537,"f":0.249,"t":"ν₂+ν₄"},{"w":3.826,"f":0.3,"t":"2ν₄"}],
"hlabels":[{"w":4.352,"f":0.414,"t":"2ν₆"},{"w":4.562,"f":0.33,"t":"ν₂"}],
"caption":[
{"line":1,"part":"b","text":"Figure 2:"},
{"line":1,"part":"r","text":"JWST Eris spectrum (black points) and model (gray curve).\u00a0 Methane absorption bands not"},
{"line":2,"part":"n","text":"previously measured for Eris are labeled, with locations of deuterated methane bands indicated by arrows."},
{"line":3,"part":"n","text":"The model was fitted to data between 1.4 and 4.8 µm, so the residuals (bottom panel) are larger outside of"},
{"line":4,"part":"n","text":"that range.\u00a0 The model was only calculated out to 5 µm, owing to limits in available optical constants.\u00a0 Noise"},
{"line":5,"part":"n","text":"in the model spectrum between 2.63 and 2.83 µm is due to contamination of the CH4 ice laboratory data by"},
{"line":6,"part":"n","text":"water vapor absorption lines."}
]
},
"vconcat":[
{
 "width":1117,"height":413,
 "resolve":{"axis":{"x":"independent","y":"independent"}},
 "layer":[
  {"data":{"name":"model"},"mark":{"type":"line","color":"#9b9b9b","strokeWidth":2.5},
   "encoding":{
    "x":{"field":"w","type":"quantitative","scale":{"domain":[0.9,5.3],"nice":false,"zero":false},
     "axis":{"orient":"top","offset":-413,"labels":false,"title":null,"values":[1,1.1,1.2,1.3,1.4,1.5,1.6,1.7,1.8,1.9,2,2.1,2.2,2.3,2.4,2.5,2.6,2.7,2.8,2.9,3,3.1,3.2,3.3,3.4,3.5,3.6,3.7,3.8,3.9,4,4.1,4.2,4.3,4.4,4.5,4.6,4.7,4.8,4.9,5,5.1,5.2],
      "tickSize":{"condition":{"test":"abs(datum.value - round(datum.value)) < 0.001","value":12},"value":6}}},
    "y":{"field":"m","type":"quantitative","scale":{"domain":[0,1],"nice":false,"zero":false},
     "axis":{"orient":"left","values":[0,0.2,0.4,0.6,0.8,1],"format":".1f","ticks":false,"labelPadding":7,"title":"Average I/F","titleX":-78,"titleBaseline":"middle","titleAngle":270}}
   }},
  {"data":{"name":"obs"},"mark":{"type":"line","color":"black","strokeWidth":1.7,"strokeDash":[2.5,1.5]},
   "encoding":{
    "x":{"field":"w","type":"quantitative",
     "axis":{"orient":"bottom","offset":-413,"labels":false,"title":null,"values":[1,1.1,1.2,1.3,1.4,1.5,1.6,1.7,1.8,1.9,2,2.1,2.2,2.3,2.4,2.5,2.6,2.7,2.8,2.9,3,3.1,3.2,3.3,3.4,3.5,3.6,3.7,3.8,3.9,4,4.1,4.2,4.3,4.4,4.5,4.6,4.7,4.8,4.9,5,5.1,5.2],
      "tickSize":{"condition":{"test":"abs(datum.value - round(datum.value)) < 0.001","value":12},"value":6}}},
    "y":{"field":"f","type":"quantitative",
     "axis":{"orient":"right","offset":-1117,"labels":false,"title":null,"values":[0.05,0.1,0.15,0.2,0.25,0.3,0.35,0.4,0.45,0.5,0.55,0.6,0.65,0.7,0.75,0.8,0.85,0.9,0.95],
      "tickSize":{"condition":{"test":"abs(datum.value*5 - round(datum.value*5)) < 0.001","value":12},"value":6}}}
   }},
  {"data":{"name":"obs"},"mark":{"type":"point","filled":true,"size":10,"color":"black","opacity":1},
   "encoding":{
    "x":{"field":"w","type":"quantitative","axis":null},
    "y":{"field":"f","type":"quantitative",
     "axis":{"orient":"left","offset":-1117,"labels":false,"title":null,"values":[0.05,0.1,0.15,0.2,0.25,0.3,0.35,0.4,0.45,0.5,0.55,0.6,0.65,0.7,0.75,0.8,0.85,0.9,0.95],
      "tickSize":{"condition":{"test":"abs(datum.value*5 - round(datum.value*5)) < 0.001","value":12},"value":6}}}
   }},
  {"data":{"name":"obs"},"transform":[{"filter":"isValid(datum.e)"}],"mark":{"type":"errorbar","color":"black","thickness":1.3},
   "encoding":{"x":{"field":"w","type":"quantitative","axis":null},"y":{"field":"f","type":"quantitative","axis":null},"yError":{"field":"e"}}},
  {"data":{"name":"arrows"},"mark":{"type":"rule","color":"black","strokeWidth":2.4},
   "encoding":{"x":{"field":"w","type":"quantitative","axis":null},"y":{"field":"t","type":"quantitative","axis":null},"y2":{"field":"h"}}},
  {"data":{"name":"arrows"},"mark":{"type":"point","shape":"triangle-down","filled":true,"size":230,"color":"black","opacity":1},
   "encoding":{"x":{"field":"w","type":"quantitative","axis":null},"y":{"field":"c","type":"quantitative","axis":null}}},
  {"data":{"name":"vlabels"},"mark":{"type":"text","angle":270,"font":"Liberation Sans","fontSize":26,"color":"black","align":"center","baseline":"middle"},
   "encoding":{"x":{"field":"w","type":"quantitative","axis":null},"y":{"field":"f","type":"quantitative","axis":null},"text":{"field":"t"}}},
  {"data":{"name":"hlabels"},"mark":{"type":"text","font":"Liberation Sans","fontSize":26,"color":"black","align":"center","baseline":"middle"},
   "encoding":{"x":{"field":"w","type":"quantitative","axis":null},"y":{"field":"f","type":"quantitative","axis":null},"text":{"field":"t"}}}
 ]
},
{
 "width":1117,"height":117,
 "resolve":{"axis":{"x":"independent","y":"independent"}},
 "layer":[
  {"data":{"values":[{}]},"mark":{"type":"rule","color":"#8a8a8a","strokeWidth":1.2},
   "encoding":{"y":{"datum":0,"type":"quantitative","axis":null,"scale":{"domain":[-0.175,0.175],"nice":false,"zero":false}}}},
  {"data":{"name":"obs"},"transform":[{"filter":"isValid(datum.r)"}],"mark":{"type":"line","color":"black","strokeWidth":1.5,"strokeDash":[2.5,1.5]},
   "encoding":{
    "x":{"field":"w","type":"quantitative","scale":{"domain":[0.9,5.3],"nice":false,"zero":false},
     "axis":{"orient":"bottom","values":[1,2,3,4,5],"format":"d","ticks":false,"labelPadding":12,"title":"Wavelength (µm)","titleY":53,"titleBaseline":"middle"}},
    "y":{"field":"r","type":"quantitative","scale":{"domain":[-0.175,0.175],"nice":false,"zero":false},
     "axis":{"orient":"left","values":[-0.1,0,0.1],"ticks":false,"labelPadding":7,"labelExpr":"replace(format(datum.value, '.1f'), '\u2212', '-')","title":"Residuals","titleX":-78,"titleBaseline":"middle","titleAngle":270}}
   }},
  {"data":{"name":"obs"},"transform":[{"filter":"isValid(datum.r) && datum.w < 3"}],"mark":{"type":"point","filled":true,"size":9,"color":"black","opacity":1},
   "encoding":{
    "x":{"field":"w","type":"quantitative",
     "axis":{"orient":"top","offset":-117,"labels":false,"title":null,"values":[1,1.1,1.2,1.3,1.4,1.5,1.6,1.7,1.8,1.9,2,2.1,2.2,2.3,2.4,2.5,2.6,2.7,2.8,2.9,3,3.1,3.2,3.3,3.4,3.5,3.6,3.7,3.8,3.9,4,4.1,4.2,4.3,4.4,4.5,4.6,4.7,4.8,4.9,5,5.1,5.2],
      "tickSize":{"condition":{"test":"abs(datum.value - round(datum.value)) < 0.001","value":12},"value":6}}},
    "y":{"field":"r","type":"quantitative",
     "axis":{"orient":"right","offset":-1117,"labels":false,"title":null,"values":[-0.15,-0.1,-0.05,0,0.05,0.1,0.15],
      "tickSize":{"condition":{"test":"abs(datum.value*10 - round(datum.value*10)) < 0.001","value":12},"value":6}}}
   }},
  {"data":{"name":"obs"},"transform":[{"filter":"isValid(datum.r) && datum.w >= 3"}],"mark":{"type":"point","filled":true,"size":9,"color":"black","opacity":1},
   "encoding":{
    "x":{"field":"w","type":"quantitative",
     "axis":{"orient":"bottom","offset":-117,"labels":false,"title":null,"values":[1,1.1,1.2,1.3,1.4,1.5,1.6,1.7,1.8,1.9,2,2.1,2.2,2.3,2.4,2.5,2.6,2.7,2.8,2.9,3,3.1,3.2,3.3,3.4,3.5,3.6,3.7,3.8,3.9,4,4.1,4.2,4.3,4.4,4.5,4.6,4.7,4.8,4.9,5,5.1,5.2],
      "tickSize":{"condition":{"test":"abs(datum.value - round(datum.value)) < 0.001","value":12},"value":6}}},
    "y":{"field":"r","type":"quantitative",
     "axis":{"orient":"left","offset":-1117,"labels":false,"title":null,"values":[-0.15,-0.1,-0.05,0,0.05,0.1,0.15],
      "tickSize":{"condition":{"test":"abs(datum.value*10 - round(datum.value*10)) < 0.001","value":12},"value":6}}}
   }},
  {"data":{"name":"obs"},"transform":[{"filter":"isValid(datum.r) && isValid(datum.e)"}],"mark":{"type":"errorbar","color":"black","thickness":1.3},
   "encoding":{"x":{"field":"w","type":"quantitative","axis":null},"y":{"field":"r","type":"quantitative","axis":null},"yError":{"field":"e"}}}
 ]
},
{
 "width":1117,"height":296,
 "view":{"stroke":null},
 "data":{"name":"caption"},
 "layer":[
  {"transform":[{"filter":"datum.part == 'b'"}],"mark":{"type":"text","font":"Liberation Serif","fontSize":28,"fontWeight":"bold","align":"left","baseline":"middle","color":"black"},
   "encoding":{"x":{"value":-107},"y":{"field":"line","type":"quantitative","axis":null,"scale":{"domain":[-1.432,6.568],"reverse":true,"nice":false,"zero":false}},"text":{"field":"text"}}},
  {"transform":[{"filter":"datum.part == 'r'"}],"mark":{"type":"text","font":"Liberation Serif","fontSize":28,"align":"left","baseline":"middle","color":"black"},
   "encoding":{"x":{"value":18},"y":{"field":"line","type":"quantitative","axis":null},"text":{"field":"text"}}},
  {"transform":[{"filter":"datum.part == 'n'"}],"mark":{"type":"text","font":"Liberation Serif","fontSize":28,"align":"left","baseline":"middle","color":"black"},
   "encoding":{"x":{"value":-107},"y":{"field":"line","type":"quantitative","axis":null},"text":{"field":"text"}}}
 ]
}
]
}
